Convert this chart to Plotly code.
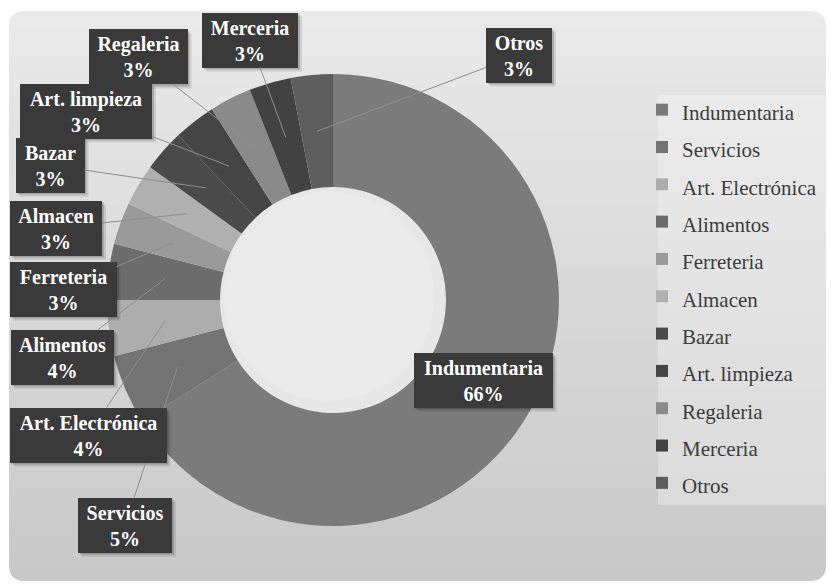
import math
import plotly.graph_objects as go

# ---- data -------------------------------------------------------------
categories = ["Indumentaria", "Servicios", "Art. Electrónica", "Alimentos",
              "Ferreteria", "Almacen", "Bazar", "Art. limpieza",
              "Regaleria", "Merceria", "Otros"]
shares = [66, 5, 4, 4, 3, 3, 3, 3, 3, 3, 3]

# ---- styling ----------------------------------------------------------
slice_colors = ["#7b7b7b", "#737373", "#adadad", "#6c6c6c", "#9a9a9a",
                "#b0b0b0", "#4a4a4a", "#454545", "#8a8a8a", "#424242",
                "#5e5e5e"]
SERIF = "Liberation Serif"

W, H = 831, 585
CX, CY, R = 333, 300, 226          # donut centre / outer radius (px)
HOLE = 0.5

# callout boxes: centre x, centre y, width (px)
box_cx = [483, 125, 88, 62, 63, 56, 50, 86, 138, 250, 519]
box_cy = [380, 525, 435, 357, 289, 228, 165, 111, 57, 40, 55]
box_w = [139, 94, 157, 103, 107, 92, 69, 132, 99, 96, 66]
BOX_H = 55


def px(x):
    return x / W


def py(y):
    return 1 - y / H


def rounded_strip(x0, y0, x1, y1, r_top, r_bot):
    """SVG path (pixel coords -> paper) for a rect with optional rounded corners."""
    p = f"M{px(x0 + r_top)},{py(y0)} L{px(x1 - r_top)},{py(y0)} "
    if r_top:
        p += f"Q{px(x1)},{py(y0)} {px(x1)},{py(y0 + r_top)} "
    p += f"L{px(x1)},{py(y1 - r_bot)} "
    if r_bot:
        p += f"Q{px(x1)},{py(y1)} {px(x1 - r_bot)},{py(y1)} "
    p += f"L{px(x0 + r_bot)},{py(y1)} "
    if r_bot:
        p += f"Q{px(x0)},{py(y1)} {px(x0)},{py(y1 - r_bot)} "
    p += f"L{px(x0)},{py(y0 + r_top)} "
    if r_top:
        p += f"Q{px(x0)},{py(y0)} {px(x0 + r_top)},{py(y0)} "
    return p + "Z"


shapes = []

# chart-area panel with a soft vertical gradient
FX0, FY0, FX1, FY1, FR = 9, 11, 826, 581, 16
n_strips = 38
step = (FY1 - FY0) / n_strips
for k in range(n_strips):
    y0 = FY0 + k * step
    y1 = FY0 + (k + 1) * step + (0.8 if k < n_strips - 1 else 0)
    t = (k + 0.5) / n_strips
    g = int(round(234 - 34 * t))
    shapes.append(dict(
        type="path", xref="paper", yref="paper", layer="below",
        path=rounded_strip(FX0, y0, FX1, y1,
                           FR if k == 0 else 0,
                           FR if k == n_strips - 1 else 0),
        fillcolor=f"rgb({g},{g},{g})", line=dict(width=0)))

# lit centre of the donut
r_in = R * HOLE
shapes.append(dict(type="circle", xref="paper", yref="paper", layer="below",
                   x0=px(CX - r_in), x1=px(CX + r_in),
                   y0=py(CY + r_in), y1=py(CY - r_in),
                   fillcolor="#e7e7e7", line=dict(width=0)))
r2 = r_in * 0.93
shapes.append(dict(type="circle", xref="paper", yref="paper", layer="below",
                   x0=px(CX - 4 - r2), x1=px(CX - 4 + r2),
                   y0=py(CY - 4 + r2), y1=py(CY - 4 - r2),
                   fillcolor="#eaeaea", line=dict(width=0)))

# legend panel
shapes.append(dict(type="rect", xref="paper", yref="paper", layer="below",
                   x0=px(658), x1=px(827), y0=py(505), y1=py(95),
                   fillcolor="rgba(245,245,245,0.35)", line=dict(width=0)))

# soft drop shadows under the callout boxes
for bx, by, bw in zip(box_cx, box_cy, box_w):
    for off, a in ((2, 0.18), (4, 0.10)):
        shapes.append(dict(type="rect", xref="paper", yref="paper", layer="above",
                           x0=px(bx - bw / 2 + off), x1=px(bx + bw / 2 + off),
                           y0=py(by + BOX_H / 2 + off), y1=py(by - BOX_H / 2 + off),
                           fillcolor=f"rgba(0,0,0,{a})", line=dict(width=0)))

# ---- callout annotations ----------------------------------------------
total = sum(shares)
annotations = []
cum = 0.0
for i, (name, v) in enumerate(zip(categories, shares)):
    mid = (cum + v / 2) / total
    cum += v
    ang = 2 * math.pi * mid                    # clockwise from 12 o'clock
    rr = 0.75 * R
    hx = CX + rr * math.sin(ang)
    hy = CY - rr * math.cos(ang)
    ann = dict(
        text=f"<b>{name}<br>{v}%</b>",
        font=dict(family=SERIF, size=20, color="white"),
        bgcolor="#3a3a3a", borderwidth=0, borderpad=0,
        width=box_w[i], height=BOX_H, align="center", valign="middle",
        xref="paper", yref="paper",
    )
    if i != 0:
        ann.update(x=px(hx), y=py(hy), showarrow=True, arrowhead=0,
                   arrowwidth=1, arrowcolor="#8e8e8e", standoff=0,
                   ax=box_cx[i] - hx, ay=box_cy[i] - hy)
    else:
        ann.update(x=px(box_cx[i]), y=py(box_cy[i]), showarrow=False,
                   xanchor="center", yanchor="middle")
    annotations.append(ann)

legend_labels = [f'<span style="font-size:21px">{c}</span>' for c in categories]

fig = go.Figure(go.Pie(
    labels=legend_labels,
    values=shares,
    hole=HOLE,
    sort=False,
    direction="clockwise",
    rotation=0,
    textinfo="none",
    hoverinfo="label+percent",
    marker=dict(colors=slice_colors, line=dict(width=0)),
    domain=dict(x=[px(CX - R), px(CX + R)], y=[py(CY + R), py(CY - R)]),
))

fig.update_layout(
    width=W, height=H,
    margin=dict(l=0, r=0, t=0, b=0),
    paper_bgcolor="white",
    plot_bgcolor="white",
    font=dict(family=SERIF),
    shapes=shapes,
    annotations=annotations,
    showlegend=True,
    legend=dict(
        x=px(642), y=py(86), xanchor="left", yanchor="top",
        bgcolor="rgba(0,0,0,0)",
        font=dict(family=SERIF, size=26.4, color="#3c3c3c"),
        traceorder="normal",
    ),
)

fig.write_html("out.html")
